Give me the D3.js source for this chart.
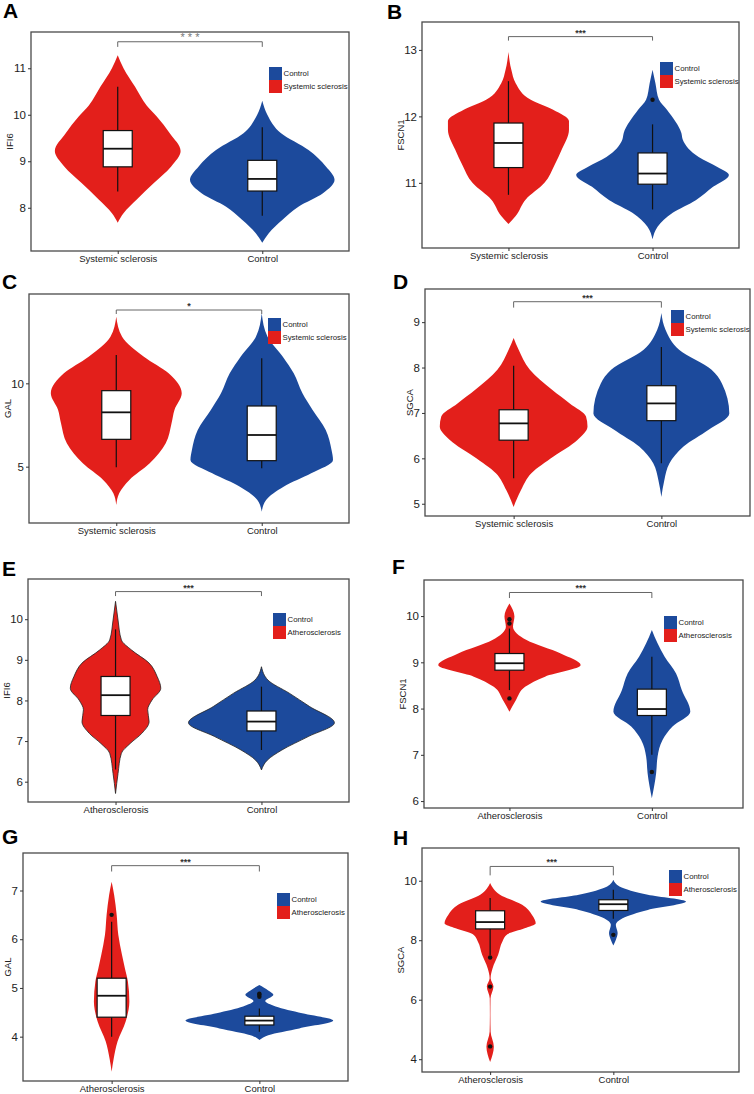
<!DOCTYPE html>
<html>
<head>
<meta charset="utf-8">
<script src="https://cdn.jsdelivr.net/npm/d3@7"></script>
<style>
  body { margin: 0; background: #fff; }
  svg { display: block; }
  text { font-family: "Liberation Sans", Arial, sans-serif; }
</style>
</head>
<body>
<div id="chart"></div>
<script>
// Panel content
var letters = ["A", "B", "C", "D", "E", "F", "G", "H"];
var genes = ["IFI6", "FSCN1", "GAL", "SGCA", "IFI6", "FSCN1", "GAL", "SGCA"];
var diseases = ["Systemic sclerosis", "Systemic sclerosis", "Systemic sclerosis", "Systemic sclerosis",
                "Atherosclerosis", "Atherosclerosis", "Atherosclerosis", "Atherosclerosis"];
var stars = ["* * *", "***", "*", "***", "***", "***", "***", "***"];

// y axis ranges and tick labels
var yDomains = [[7.07, 11.78], [10.02, 13.42], [1.62, 15.36], [4.73, 9.73],
                [5.5, 10.99], [5.85, 10.78], [3.09, 7.77], [3.57, 11.1]];
var yTicks = [[8, 9, 10, 11], [11, 12, 13], [5, 10], [5, 6, 7, 8, 9],
              [6, 7, 8, 9, 10], [6, 7, 8, 9, 10], [4, 5, 6, 7], [4, 6, 8, 10]];

// violin outlines: [value, half width in category units], top to bottom
var diseaseShapes = [
  [[11.28,0],[11.0,0.04],[10.6,0.12],[10.2,0.2],[9.96,0.27],[9.6,0.36],[9.22,0.435],[8.89,0.37],[8.53,0.25],[8.17,0.13],[7.88,0.04],[7.68,0]],
  [[12.97,0],[12.7,0.02],[12.5,0.05],[12.25,0.155],[12.1,0.31],[11.93,0.42],[11.8,0.42],[11.5,0.37],[11.27,0.32],[11.0,0.25],[10.75,0.12],[10.5,0.05],[10.38,0]],
  [[14.0,0],[12.8,0.04],[11.6,0.19],[10.6,0.36],[9.4,0.45],[8.4,0.4],[7.6,0.38],[6.4,0.34],[5.2,0.23],[4.2,0.09],[3.4,0.02],[2.7,0]],
  [[8.65,0],[8.39,0.034],[7.95,0.11],[7.51,0.26],[7.21,0.38],[6.92,0.49],[6.7,0.5],[6.4,0.43],[6.04,0.27],[5.67,0.12],[5.3,0.05],[4.93,0]],
  [[10.44,0],[9.98,0.017],[9.49,0.04],[9.24,0.11],[8.92,0.23],[8.59,0.285],[8.3,0.31],[8.01,0.25],[7.77,0.22],[7.48,0.23],[7.19,0.18],[6.94,0.1],[6.7,0.04],[6.2,0.017],[5.71,0]],
  [[10.27,0],[9.99,0.035],[9.77,0.025],[9.48,0.12],[9.19,0.36],[8.94,0.5],[8.69,0.25],[8.47,0.11],[8.18,0.045],[7.93,0]],
  [[7.18,0],[6.91,0.017],[6.5,0.034],[6.09,0.045],[5.68,0.07],[5.4,0.09],[5.13,0.11],[4.72,0.12],[4.31,0.095],[3.9,0.04],[3.55,0.014],[3.28,0]],
  [[9.92,0],[9.53,0.08],[9.19,0.26],[8.85,0.34],[8.57,0.37],[8.4,0.28],[8.2,0.14],[7.96,0.1],[7.51,0.065],[7.06,0.02],[6.72,0.004],[6.44,0.027],[6.04,0.003],[5.48,0.002],[4.92,0.004],[4.42,0.03],[3.91,0]]
];
var controlShapes = [
  [[10.3,0],[10.0,0.035],[9.6,0.13],[9.24,0.32],[8.89,0.44],[8.6,0.5],[8.31,0.42],[8.02,0.25],[7.74,0.14],[7.45,0.045],[7.25,0]],
  [[12.7,0],[12.5,0.02],[12.25,0.045],[12.1,0.1],[11.75,0.2],[11.65,0.21],[11.39,0.32],[11.24,0.45],[11.12,0.53],[10.94,0.42],[10.74,0.3],[10.55,0.14],[10.34,0.035],[10.15,0]],
  [[14.2,0],[12.8,0.04],[11.6,0.145],[10.6,0.22],[9.4,0.28],[8.4,0.35],[7.2,0.44],[6.0,0.48],[5.4,0.49],[4.6,0.34],[3.8,0.15],[3.0,0.03],[2.3,0]],
  [[9.2,0],[8.83,0.028],[8.39,0.12],[7.95,0.34],[7.65,0.41],[6.99,0.46],[6.63,0.32],[6.26,0.15],[5.89,0.055],[5.52,0.02],[5.15,0]],
  [[8.83,0],[8.5,0.045],[8.18,0.19],[7.85,0.33],[7.45,0.5],[7.11,0.32],[6.78,0.14],[6.53,0.04],[6.29,0]],
  [[9.7,0],[9.41,0.04],[9.12,0.09],[8.76,0.17],[8.4,0.21],[7.93,0.27],[7.61,0.145],[7.32,0.075],[6.96,0.04],[6.6,0.03],[6.06,0]],
  [[5.06,0],[4.95,0.06],[4.86,0.095],[4.73,0.04],[4.62,0.11],[4.48,0.29],[4.33,0.5],[4.17,0.27],[4.03,0.06],[3.93,0]],
  [[10.03,0],[9.81,0.05],[9.53,0.28],[9.3,0.59],[9.02,0.28],[8.74,0.075],[8.52,0.02],[8.24,0.035],[8.01,0.02],[7.82,0]]
];

// boxes: [lower whisker, Q1, median, Q3, upper whisker]
var diseaseBoxes = [
  [8.35, 8.88, 9.27, 9.66, 10.6], [10.82, 11.23, 11.6, 11.9, 12.53],
  [4.96, 6.64, 8.26, 9.56, 11.7], [5.56, 6.4, 6.77, 7.07, 8.04],
  [6.3, 7.63, 8.13, 8.59, 9.75], [8.4, 8.83, 8.98, 9.19, 9.73],
  [4.0, 4.4, 4.84, 5.2, 6.36], [7.5, 8.38, 8.61, 8.99, 9.42]
];
var controlBoxes = [
  [7.83, 8.36, 8.62, 9.02, 9.73], [10.6, 10.98, 11.14, 11.45, 11.88],
  [4.9, 5.36, 6.9, 8.64, 11.5], [5.89, 6.83, 7.21, 7.6, 8.45],
  [6.78, 7.25, 7.48, 7.74, 8.34], [7.0, 7.85, 7.99, 8.42, 9.12],
  [4.1, 4.24, 4.33, 4.42, 4.58], [8.72, 9.0, 9.21, 9.36, 9.7]
];
var diseaseOutliers = [[], [], [], [], [], [9.93, 9.84, 8.22], [6.5], [7.42, 6.44, 4.43]];
var controlOutliers = [[], [12.25], [], [], [], [6.63], [4.82, 4.86, 4.88], [8.18]];

// significance bracket heights (top line, tick ends)
var bracketTop = [11.57, 13.2, 14.4, 9.45, 10.68, 10.51, 7.51, 10.48];
var bracketEnd = [11.46, 13.14, 14.16, 9.32, 10.57, 10.39, 7.39, 10.18];

var red = "#e31f1b";
var blue = "#1c4a9c";

// panel frames in page pixels
var layout = [
  {x0: 31,  x1: 349, y0: 32,  y1: 251,  lx: 3,   ly: 18,  gx: 269, gy: 67},
  {x0: 422, x1: 739, y0: 22,  y1: 248,  lx: 387, ly: 19,  gx: 660, gy: 62},
  {x0: 29,  x1: 349, y0: 294, y1: 523,  lx: 2,   ly: 289, gx: 268, gy: 318},
  {x0: 425, x1: 750, y0: 289, y1: 516,  lx: 393, ly: 289, gx: 671, gy: 310},
  {x0: 28,  x1: 349, y0: 579, y1: 802,  lx: 2,   ly: 576, gx: 273, gy: 613, outline: true},
  {x0: 424, x1: 743, y0: 580, y1: 808,  lx: 392, ly: 574, gx: 664, gy: 616, xd: [0.4, 2.64]},
  {x0: 23,  x1: 348, y0: 853, y1: 1081, lx: 2,   ly: 844, gx: 277, gy: 893},
  {x0: 422, x1: 739, y0: 848, y1: 1072, lx: 393, ly: 845, gx: 669, gy: 870, xd: [0.447, 3.02]}
];

var svg = d3.select("#chart")
  .append("svg")
  .attr("width", 754)
  .attr("height", 1094);

letters.forEach(function (letter, i) {
  var L = layout[i];
  var g = svg.append("g");

  var x = d3.scaleLinear().domain(L.xd || [0.4, 2.6]).range([L.x0, L.x1]);
  var y = d3.scaleLinear().domain(yDomains[i]).range([L.y1, L.y0]);
  var half = function (h) { return x(h) - x(0); };

  var groups = [
    {pos: 1, shape: diseaseShapes[i], box: diseaseBoxes[i], out: diseaseOutliers[i], color: red},
    {pos: 2, shape: controlShapes[i], box: controlBoxes[i], out: controlOutliers[i], color: blue}
  ];

  groups.forEach(function (s) {
    var cx = x(s.pos);
    var area = d3.area()
      .y(function (d) { return y(d[0]); })
      .x0(function (d) { return cx - half(d[1]); })
      .x1(function (d) { return cx + half(d[1]); })
      .curve(d3.curveMonotoneY);

    g.append("path")
      .datum(s.shape)
      .attr("d", area)
      .attr("fill", s.color)
      .attr("stroke", L.outline ? "#222" : "none")
      .attr("stroke-width", 0.8);

    // whisker
    g.append("line")
      .attr("x1", cx).attr("x2", cx)
      .attr("y1", y(s.box[0])).attr("y2", y(s.box[4]))
      .attr("stroke", "#111")
      .attr("stroke-width", 1.2);

    // box
    g.append("rect")
      .attr("x", cx - 14.5)
      .attr("y", y(s.box[3]))
      .attr("width", 29)
      .attr("height", y(s.box[1]) - y(s.box[3]))
      .attr("fill", "#fff")
      .attr("stroke", "#111")
      .attr("stroke-width", 1.2);

    g.append("line")
      .attr("x1", cx - 14.5).attr("x2", cx + 14.5)
      .attr("y1", y(s.box[2])).attr("y2", y(s.box[2]))
      .attr("stroke", "#111")
      .attr("stroke-width", 1.8);

    g.selectAll(null)
      .data(s.out)
      .enter()
      .append("circle")
      .attr("cx", cx)
      .attr("cy", function (d) { return y(d); })
      .attr("r", 2.2)
      .attr("fill", "#111");
  });

  // frame
  g.append("rect")
    .attr("x", L.x0).attr("y", L.y0)
    .attr("width", L.x1 - L.x0).attr("height", L.y1 - L.y0)
    .attr("fill", "none")
    .attr("stroke", "#4a4a4a")
    .attr("stroke-width", 1.3);

  // axes
  var leftAxis = d3.axisLeft(y).tickValues(yTicks[i]).tickSize(3).tickPadding(2).tickFormat(d3.format("d"));
  var ya = g.append("g").attr("transform", "translate(" + L.x0 + ",0)").call(leftAxis);

  var bottomAxis = d3.axisBottom(x).tickValues([1, 2]).tickSize(3).tickPadding(1)
    .tickFormat(function (d) { return d === 1 ? diseases[i] : "Control"; });
  var xa = g.append("g").attr("transform", "translate(0," + L.y1 + ")").call(bottomAxis);

  [ya, xa].forEach(function (a, k) {
    a.select(".domain").remove();
    a.selectAll(".tick line").attr("stroke", "#333");
    a.selectAll("text")
      .attr("fill", "#222")
      .style("font-size", k === 0 ? "11.5px" : "9.5px")
      .style("font-family", "'Liberation Sans', Arial, sans-serif");
  });

  // y title
  var digits = d3.max(yTicks[i], function (t) { return String(t).length; });
  g.append("text")
    .attr("transform", "translate(" + (L.x0 - 10 - 5.5 * digits) + "," + ((L.y0 + L.y1) / 2) + ") rotate(-90)")
    .attr("text-anchor", "middle")
    .attr("dy", "0.35em")
    .attr("font-size", "9.5px")
    .attr("fill", "#222")
    .text(genes[i]);

  // significance bracket
  var bt = y(bracketTop[i]), be = y(bracketEnd[i]);
  g.append("path")
    .attr("d", "M" + x(1) + "," + be + "V" + bt + "H" + x(2) + "V" + be)
    .attr("fill", "none")
    .attr("stroke", "#666")
    .attr("stroke-width", 1);

  g.append("text")
    .attr("x", (x(1) + x(2)) / 2)
    .attr("y", bt - 1)
    .attr("text-anchor", "middle")
    .attr("font-size", i === 0 ? "11px" : "9px")
    .attr("font-weight", i === 0 ? "normal" : "bold")
    .attr("fill", i === 0 ? "#777" : "#333")
    .text(stars[i]);

  // legend
  var legendItems = [["Control", blue], [diseases[i], red]];
  legendItems.forEach(function (item, k) {
    g.append("rect")
      .attr("x", L.gx).attr("y", L.gy + k * 13)
      .attr("width", 13).attr("height", 13)
      .attr("fill", item[1]);
    g.append("text")
      .attr("x", L.gx + 14.5)
      .attr("y", L.gy + k * 13 + 6.5)
      .attr("dy", "0.35em")
      .attr("font-size", "7.8px")
      .attr("fill", "#222")
      .text(item[0]);
  });

  // panel letter
  g.append("text")
    .attr("x", L.lx).attr("y", L.ly)
    .attr("font-size", "21px")
    .attr("font-weight", "bold")
    .attr("fill", "#000")
    .text(letter);
});
</script>
</body>
</html>
